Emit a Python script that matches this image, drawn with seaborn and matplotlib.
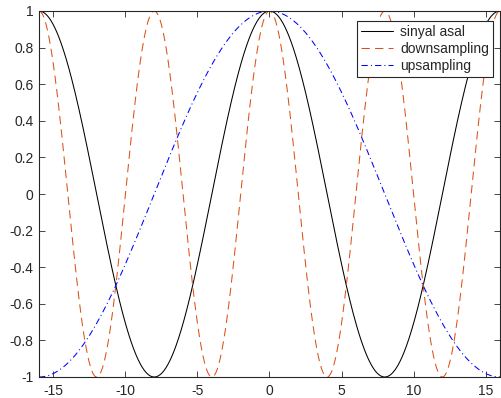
import numpy as np
import pandas as pd
import matplotlib
matplotlib.use("Agg")
import matplotlib.pyplot as plt
import seaborn as sns

# Signal definitions: cosine waves over the time axis, each with its own period
series_names = ["sinyal asal", "downsampling", "upsampling"]
series_periods = [16, 8, 32]
series_colors = ["black", "#D95319", "blue"]
series_styles = ["-", (0, (8, 5)), (0, (6, 3, 1, 3))]

x_min, x_max = -16, 16
x_ticks = [-15, -10, -5, 0, 5, 10, 15]
y_ticks = [-1, -0.8, -0.6, -0.4, -0.2, 0, 0.2, 0.4, 0.6, 0.8, 1]
y_tick_labels = ["-1", "-0.8", "-0.6", "-0.4", "-0.2", "0", "0.2", "0.4", "0.6", "0.8", "1"]

t = np.linspace(x_min, x_max, 2001)
frames = []
for name, period in zip(series_names, series_periods):
    frames.append(pd.DataFrame({"t": t, "y": np.cos(2 * np.pi * t / period), "signal": name}))
df = pd.concat(frames, ignore_index=True)

sns.set_style("white")
plt.rcParams["font.family"] = ["Liberation Sans", "DejaVu Sans"]

fig = plt.figure(figsize=(5.02, 3.98), dpi=100)
ax = fig.add_axes([39 / 502, 21 / 398, 461 / 502, 366 / 398])

for name, color, style in zip(series_names, series_colors, series_styles):
    sns.lineplot(data=df[df["signal"] == name], x="t", y="y", ax=ax,
                 color=color, linewidth=0.75, linestyle=style, label=name,
                 estimator=None, sort=False)

ax.set_xlim(x_min, x_max)
ax.set_ylim(-1, 1)
ax.set_xticks(x_ticks)
ax.set_xticklabels([str(v) for v in x_ticks])
ax.set_yticks(y_ticks)
ax.set_yticklabels(y_tick_labels)
ax.set_xlabel("")
ax.set_ylabel("")

axis_gray = "#262626"
for s in ax.spines.values():
    s.set_visible(True)
    s.set_color(axis_gray)
    s.set_linewidth(0.8)
ax.tick_params(direction="in", length=4, width=0.6, colors=axis_gray,
               labelsize=10, labelcolor=axis_gray,
               top=True, right=True, bottom=True, left=True)
ax.tick_params(axis="x", pad=5)
ax.tick_params(axis="y", pad=4)

leg = ax.legend(loc="upper right", bbox_to_anchor=(0.985, 0.973), fontsize=10,
                frameon=True, fancybox=False, handlelength=2.3,
                borderpad=0.3, labelspacing=0.2, handletextpad=0.5,
                borderaxespad=0)
leg.get_frame().set_edgecolor(axis_gray)
leg.get_frame().set_linewidth(0.8)
leg.get_frame().set_facecolor("white")
leg.get_frame().set_alpha(1)

fig.savefig("out.png", dpi=100)
